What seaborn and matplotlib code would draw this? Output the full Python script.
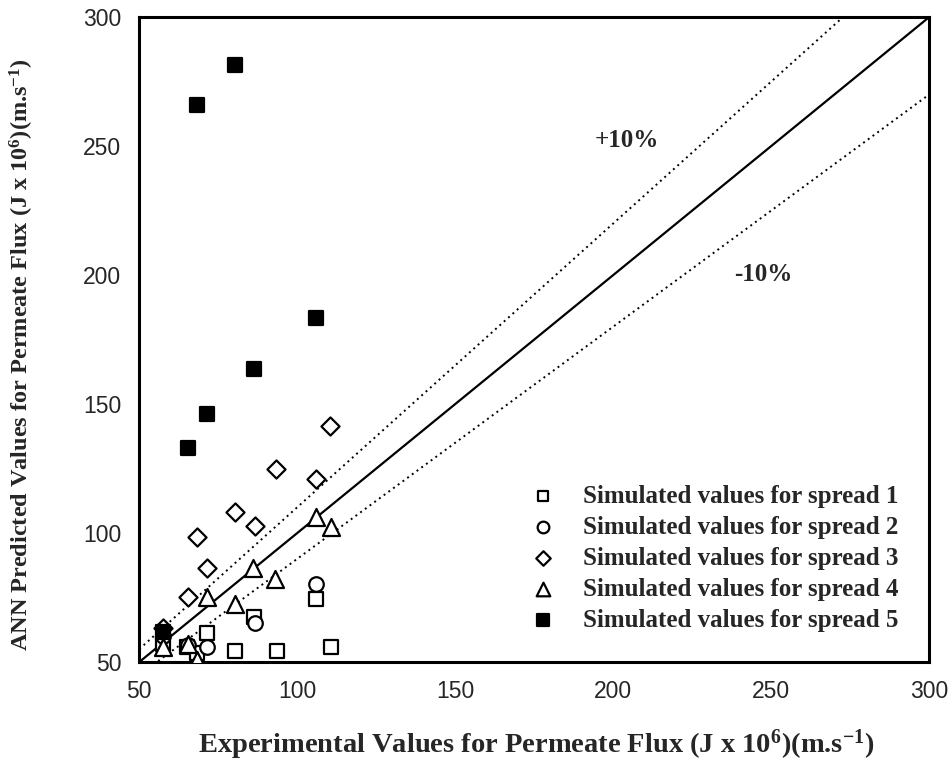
import matplotlib
matplotlib.use("Agg")
import matplotlib.pyplot as plt
import seaborn as sns
import pandas as pd
import numpy as np

# ---- data ----
s1_x = [57.4, 65.0, 68.2, 71.5, 80.2, 86.4, 93.5, 105.9, 110.6]
s1_y = [57.0, 55.9, 53.4, 61.1, 54.4, 67.6, 54.4, 74.3, 55.7]

s2_x = [57.4, 65.5, 71.5, 86.6, 105.9]
s2_y = [60.0, 56.5, 55.9, 65.0, 80.2]

s3_x = [57.4, 65.5, 68.2, 71.5, 80.2, 86.5, 93.3, 105.9, 110.4]
s3_y = [63.1, 75.3, 98.6, 86.3, 108.3, 102.7, 124.8, 120.9, 141.5]

s4_x = [57.6, 65.5, 68.2, 71.5, 80.2, 86.1, 92.9, 105.9, 110.6]
s4_y = [55.9, 57.0, 50.8, 75.3, 72.5, 86.3, 82.1, 106.1, 102.4]

s5_x = [57.4, 65.4, 68.2, 71.5, 80.2, 86.4, 105.9]
s5_y = [61.5, 132.8, 265.9, 146.1, 281.4, 163.4, 183.2]

labels = ["Simulated values for spread 1", "Simulated values for spread 2",
          "Simulated values for spread 3", "Simulated values for spread 4",
          "Simulated values for spread 5"]

line_x = [50, 300]
ratios = [1.0, 1.1, 0.9]
x_ticks = [50, 100, 150, 200, 250, 300]
y_ticks = [50, 100, 150, 200, 250, 300]

sns.set_style("white")
plt.rcParams["font.family"] = ["Liberation Serif", "DejaVu Serif"]
plt.rcParams["mathtext.fontset"] = "custom"
plt.rcParams["mathtext.rm"] = "Liberation Serif:bold"
plt.rcParams["mathtext.it"] = "Liberation Serif:bold"
plt.rcParams["mathtext.bf"] = "Liberation Serif:bold"

fig = plt.figure(figsize=(9.52, 7.62), dpi=100)
ax = fig.add_axes([139.3 / 952, 1 - 662 / 762, 790 / 952, 645 / 762])

# reference lines
styles = [dict(linestyle="-", linewidth=1.6),
          dict(linestyle=(0, (1, 2.0)), linewidth=1.4),
          dict(linestyle=(0, (1, 2.0)), linewidth=1.4)]
for r, st in zip(ratios, styles):
    d = pd.DataFrame({"x": line_x, "y": [v * r for v in line_x]})
    sns.lineplot(data=d, x="x", y="y", ax=ax, color="black", legend=False, **st)

series = [(s1_x, s1_y, "s", "white", 95),
          (s2_x, s2_y, "o", "white", 110),
          (s3_x, s3_y, "D", "white", 85),
          (s4_x, s4_y, "^", "white", 150),
          (s5_x, s5_y, "s", "black", 110)]
for (xs, ys, m, fc, sz), lab in zip(series, labels):
    d = pd.DataFrame({"x": xs, "y": ys})
    sns.scatterplot(data=d, x="x", y="y", ax=ax, marker=m, s=sz,
                    facecolor=fc, edgecolor="black", linewidth=1.6,
                    label=lab, clip_on=True, zorder=3)

ax.set_xlim(50, 300)
ax.set_ylim(50, 300)
ax.set_xticks(x_ticks)
ax.set_yticks(y_ticks)
ax.set_xticks(np.arange(75, 300, 50), minor=True)
ax.set_yticks(np.arange(75, 300, 50), minor=True)
ax.tick_params(which="both", direction="out", length=8, width=2, color="black")
ax.tick_params(axis="both", which="major", labelsize=16.5, pad=5)
for lab in ax.get_xticklabels() + ax.get_yticklabels():
    lab.set_family("Liberation Sans")
for sp in ax.spines.values():
    sp.set_linewidth(2.2)
    sp.set_color("black")

ax.set_xlabel("Experimental Values for Permeate Flux (J x 10$^{6}$)(m.s$^{-1}$)",
              fontsize=20.5, fontweight="bold")
ax.set_ylabel("ANN Predicted Values for Permeate Flux (J x 10$^{6}$)(m.s$^{-1}$)",
              fontsize=17.5, fontweight="bold")
ax.xaxis.label.set_va("center")
ax.xaxis.set_label_coords(0.503, -0.129)
ax.yaxis.label.set_va("center")
ax.yaxis.label.set_rotation_mode("anchor")
ax.yaxis.set_label_coords(-0.1485, 0.476)

ax.text(204.3, 252, "+10%", fontsize=18, fontweight="bold", ha="center", va="center")
ax.text(247.4, 200, "-10%", fontsize=18, fontweight="bold", ha="center", va="center")

leg = ax.legend(loc="lower right", bbox_to_anchor=(0.99, 0.012), frameon=False,
                prop={"family": "Liberation Serif", "weight": "bold", "size": 18},
                labelspacing=0.32, handlelength=1.0, handletextpad=1.1,
                markerscale=0.8)

fig.savefig("out.png", dpi=100)
